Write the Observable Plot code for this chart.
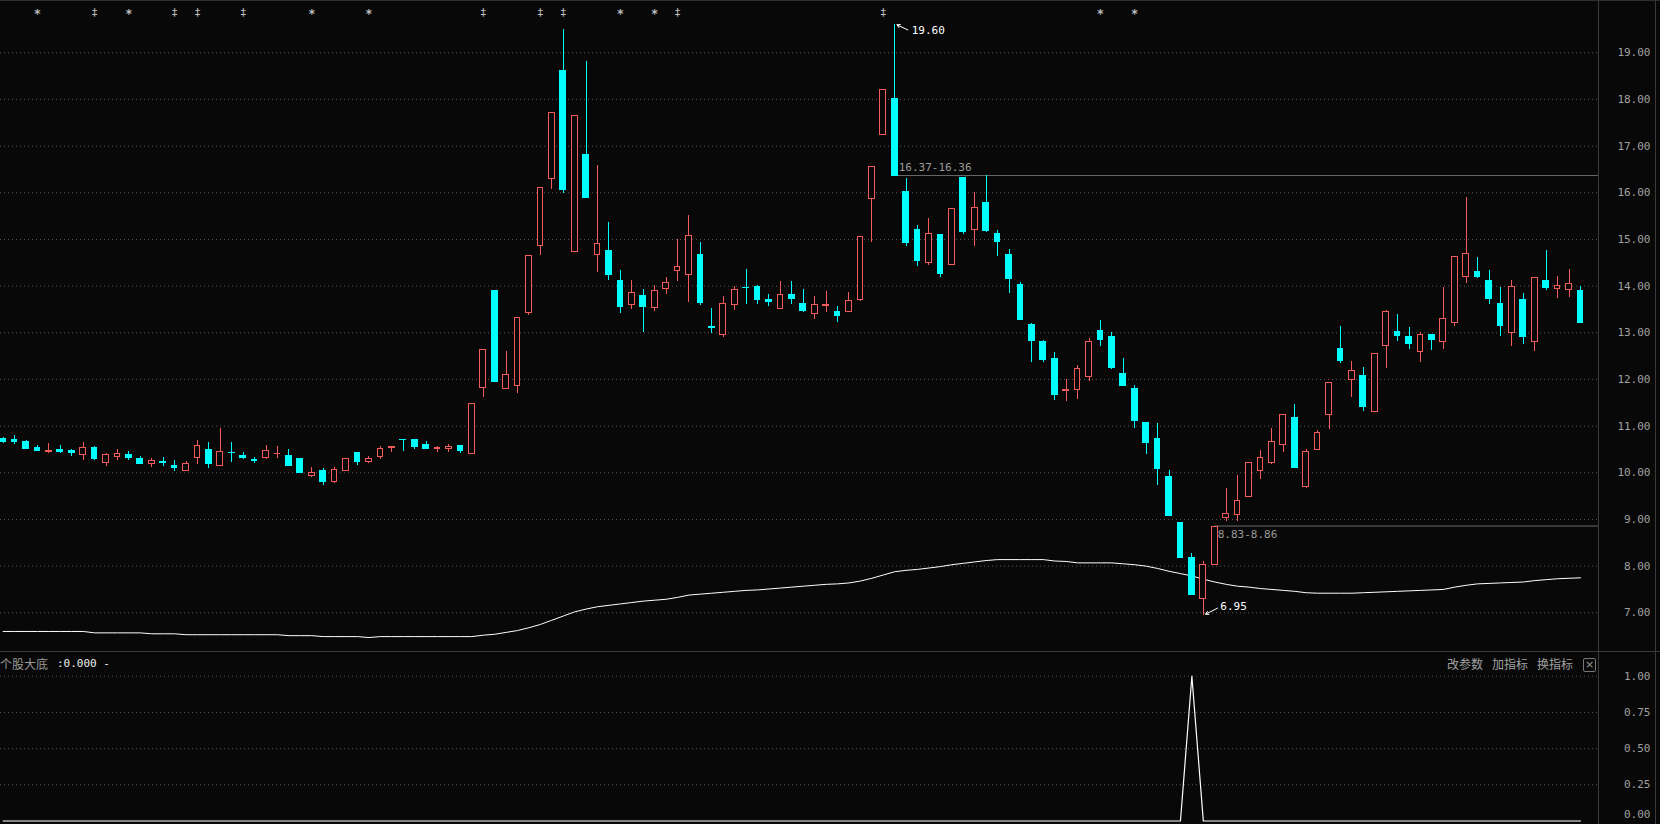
<!DOCTYPE html>
<html><head><meta charset="utf-8">
<script src="https://cdn.jsdelivr.net/npm/d3@7"></script>
<script src="https://cdn.jsdelivr.net/npm/@observablehq/plot@0.6"></script>
<style>
html,body{margin:0;padding:0;background:#080808;overflow:hidden;}
#wrap{position:relative;width:1660px;height:824px;overflow:hidden;background:#080808;}
#main{position:absolute;left:0;top:0;}
#ind{position:absolute;left:0;top:652px;}
.ln{position:absolute;background:#333;}
.t{position:absolute;font-family:"Noto Sans CJK SC";font-size:12px;line-height:14px;white-space:nowrap;}
svg{display:block;}
</style></head>
<body><div id="wrap"><div id="main"></div><div id="ind"></div></div>
<script>
// ---- data ----
const opens = [10.73,10.71,10.66,10.54,10.44,10.49,10.46,10.39,10.54,10.20,10.33,10.39,10.30,10.19,10.24,10.15,10.03,10.31,10.49,10.14,
10.43,10.36,10.27,10.31,10.40,10.36,10.30,9.94,10.04,9.81,10.03,10.43,10.24,10.33,10.54,10.71,10.71,10.60,10.50,10.52,
10.58,10.41,11.82,13.89,11.80,11.86,13.42,14.86,16.29,18.62,14.74,16.82,14.67,14.76,14.12,13.60,13.78,13.54,13.94,14.33,
14.24,14.67,13.13,12.95,13.60,13.96,13.99,13.71,13.50,13.82,13.62,13.40,13.57,13.45,13.45,13.70,15.87,17.24,18.00,16.01,
15.21,14.49,15.09,14.46,16.31,15.21,15.79,15.12,14.66,14.02,13.17,12.80,12.44,11.75,11.78,12.06,13.04,12.91,12.12,11.80,
11.07,10.73,9.92,8.93,8.18,7.29,8.02,9.04,9.09,9.49,10.03,10.20,10.59,11.18,9.69,10.48,11.24,12.66,11.99,12.08,
11.30,12.72,13.01,12.92,12.59,12.96,12.80,13.21,14.19,14.31,14.12,13.61,13.00,13.71,12.80,14.10,13.94,13.92,13.89];
const highs = [10.76,10.79,10.70,10.58,10.62,10.58,10.50,10.64,10.56,10.41,10.51,10.45,10.34,10.30,10.32,10.26,10.24,10.69,10.66,10.94,
10.64,10.44,10.33,10.58,10.56,10.49,10.30,10.11,10.09,10.11,10.29,10.43,10.36,10.56,10.55,10.72,10.71,10.68,10.56,10.61,
10.58,11.47,12.64,13.91,12.60,13.32,14.65,16.11,17.71,19.50,17.65,18.81,16.59,15.36,14.34,14.12,13.93,14.01,14.19,15.01,
15.51,14.94,13.52,13.77,14.00,14.36,14.02,13.83,14.09,14.10,13.92,13.77,13.88,13.56,13.86,15.05,16.56,18.21,19.60,16.31,
15.30,15.45,15.09,15.66,16.31,16.01,16.37,15.19,14.79,14.08,13.21,12.83,12.57,12.00,12.31,12.87,13.27,13.00,12.46,11.88,
11.07,11.05,10.04,8.93,8.27,8.10,8.86,9.67,9.95,10.21,10.47,10.96,11.24,11.46,10.49,10.91,11.92,13.14,12.38,12.25,
12.55,13.48,13.39,13.11,13.00,12.96,13.97,14.63,15.90,14.61,14.34,13.97,14.12,13.84,14.18,14.76,14.21,14.36,14.00];
const lows = [10.62,10.60,10.50,10.46,10.41,10.41,10.35,10.26,10.26,10.14,10.26,10.26,10.18,10.11,10.14,10.03,10.03,10.18,10.09,10.14,
10.22,10.28,10.19,10.28,10.31,10.15,9.99,9.90,9.73,9.77,10.03,10.16,10.21,10.28,10.44,10.45,10.49,10.52,10.44,10.44,
10.41,10.39,11.62,11.94,11.80,11.71,13.38,14.66,16.08,15.98,14.74,15.89,14.30,14.13,13.42,13.51,13.01,13.46,13.83,14.09,
13.64,13.59,12.99,12.91,13.48,13.61,13.61,13.56,13.50,13.61,13.43,13.29,13.43,13.23,13.45,13.67,14.94,17.24,16.37,14.84,
14.43,14.45,14.19,14.46,15.11,14.84,15.16,14.64,13.84,13.27,12.37,12.37,11.56,11.52,11.58,11.95,12.70,12.21,11.86,10.96,
10.39,9.72,9.08,8.16,7.39,6.95,8.02,8.96,8.96,9.49,9.85,10.18,10.43,10.11,9.66,10.48,10.93,12.35,11.62,11.32,
11.30,12.24,12.82,12.65,12.37,12.63,12.65,13.14,14.06,14.17,13.61,12.93,12.71,12.74,12.61,13.91,13.74,13.76,13.20];
const closes = [10.67,10.67,10.50,10.46,10.47,10.45,10.42,10.53,10.29,10.38,10.40,10.31,10.18,10.25,10.20,10.11,10.19,10.57,10.18,10.44,
10.42,10.31,10.25,10.47,10.41,10.15,9.99,9.99,9.81,10.06,10.29,10.24,10.29,10.51,10.55,10.70,10.56,10.52,10.54,10.56,
10.46,11.47,12.64,11.94,12.10,13.32,14.65,16.11,17.71,16.05,17.65,15.89,14.91,14.24,13.55,13.86,13.55,13.90,14.07,14.41,
15.08,13.63,13.11,13.62,13.91,13.95,13.70,13.65,13.81,13.72,13.46,13.60,13.60,13.35,13.69,15.05,16.56,18.21,16.37,14.92,
14.54,15.12,14.26,15.66,15.15,15.68,15.19,14.94,14.15,13.27,12.82,12.42,11.67,11.78,12.22,12.80,12.85,12.25,11.86,11.11,
10.64,10.09,9.08,8.18,7.39,8.03,8.83,9.11,9.39,10.20,10.31,10.66,11.24,10.11,10.44,10.85,11.92,12.39,12.18,11.42,
12.55,13.45,12.93,12.76,12.96,12.84,13.30,14.63,14.69,14.19,13.72,13.14,13.99,12.91,14.18,13.96,14.01,14.05,13.22];
const maLine = [6.60,6.60,6.60,6.60,6.60,6.60,6.60,6.60,6.57,6.57,6.57,6.57,6.57,6.55,6.55,6.55,6.53,6.53,6.53,6.53,
6.53,6.53,6.53,6.53,6.53,6.51,6.51,6.51,6.49,6.49,6.49,6.49,6.47,6.49,6.49,6.49,6.49,6.49,6.49,6.49,
6.49,6.49,6.52,6.54,6.58,6.62,6.68,6.75,6.84,6.93,7.02,7.08,7.13,7.16,7.19,7.22,7.25,7.27,7.29,7.33,
7.38,7.40,7.42,7.44,7.46,7.48,7.49,7.51,7.53,7.55,7.57,7.59,7.61,7.62,7.64,7.68,7.74,7.81,7.88,7.91,
7.93,7.96,7.99,8.03,8.06,8.09,8.12,8.14,8.14,8.14,8.14,8.14,8.11,8.10,8.07,8.07,8.07,8.07,8.05,8.03,
8.00,7.95,7.89,7.84,7.79,7.72,7.66,7.61,7.57,7.55,7.52,7.50,7.48,7.46,7.43,7.42,7.42,7.42,7.42,7.43,
7.44,7.45,7.46,7.47,7.48,7.49,7.50,7.55,7.59,7.62,7.63,7.64,7.65,7.66,7.69,7.71,7.73,7.74,7.75];
const priceTicks = [7,8,9,10,11,12,13,14,15,16,17,18,19];
const indTicks = [0,0.25,0.5,0.75,1];
const starDays = [3,11,27,32,54,57,96,99];
const daggerDays = [8,15,17,21,42,47,49,59,77];
const signalDays = [104];           // 个股大底 signal = 1 on these days, 0 elsewhere
const peakMark = {i:78, v:19.60};
const troughMark = {i:105, v:6.95};
const gapMarks = [{i:78, a:16.37, b:16.36, y:16.37, pos:"above"}, {i:106, a:8.83, b:8.86, y:8.86, pos:"below"}];

// ---- build ----
const RED = "#f55a5a", CYAN = "#00ffff", BG = "#080808";
const candles = opens.map((o, i) => ({i, o, h: highs[i], l: lows[i], c: closes[i], up: closes[i] >= o}));
const indicator = closes.map((_, i) => signalDays.includes(i) ? 1 : 0);
const xMax = 139.57;
const xOpt = {type: "linear", domain: [0, 138], range: [2.67, 1580.0], axis: null};
const font = {background: BG, fontFamily: "DejaVu Sans Mono", fontSize: "11px", color: "#a0a0a0"};

const main = Plot.plot({
  width: 1660, height: 652, marginLeft: 0, marginRight: 62, marginTop: 0, marginBottom: 0,
  style: font,
  x: xOpt,
  y: {domain: [7, 19], range: [612.3, 52.3], axis: null},
  marks: [
    Plot.ruleY(priceTicks, {stroke: "#5c5c5c", strokeDasharray: "1,3"}),
    Plot.axisY(priceTicks, {anchor: "right", tickSize: 0, tickPadding: 52, textAnchor: "end", tickFormat: d => d.toFixed(2), fill: "#a0a0a0", label: null}),
    Plot.ruleY(gapMarks, {y: "y", x1: "i", x2: () => xMax, stroke: "#6a6a6a"}),
    Plot.text(gapMarks.filter(g => g.pos === "above"), {x: "i", y: "y", text: g => `${g.a.toFixed(2)}-${g.b.toFixed(2)}`, dx: 4, dy: -8, textAnchor: "start", fill: "#9a9a9a", fontSize: 11}),
    Plot.text(gapMarks.filter(g => g.pos === "below"), {x: "i", y: "y", text: g => `${g.a.toFixed(2)}-${g.b.toFixed(2)}`, dx: 3, dy: 8, textAnchor: "start", fill: "#9a9a9a", fontSize: 11}),
    Plot.line(maLine, {x: (d, i) => i, y: d => d, stroke: "#ffffff", strokeWidth: 1}),
    Plot.ruleX(candles, {x: "i", y1: "l", y2: "h", stroke: d => d.up ? RED : CYAN, strokeWidth: 1, shapeRendering: "crispEdges"}),
    Plot.rect(candles, {x1: d => d.i - 0.25, x2: d => d.i + 0.25, y1: "o", y2: "c", fill: d => d.up ? BG : CYAN, stroke: d => d.up ? RED : CYAN, strokeWidth: 1, shapeRendering: "crispEdges"}),
    Plot.text(starDays, {x: d => d, text: () => "*", frameAnchor: "top", dy: 9, fill: "#bdbdbd", fontSize: 12, fontWeight: "bold"}),
    Plot.text(daggerDays, {x: d => d, text: () => "‡", frameAnchor: "top", dy: 8, fill: "#bdbdbd", fontSize: 11}),
    Plot.arrow([peakMark], {x1: d => d.i + 1.15, y1: d => d.v - 0.11, x2: d => d.i + 0.2, y2: d => d.v, stroke: "#ffffff", headLength: 5, strokeWidth: 1}),
    Plot.text([peakMark], {x: "i", y: "v", text: d => d.v.toFixed(2), dx: 17, dy: 6, textAnchor: "start", fill: "#ffffff", fontSize: 11}),
    Plot.arrow([troughMark], {x1: d => d.i + 1.25, y1: d => d.v + 0.15, x2: d => d.i + 0.2, y2: d => d.v + 0.02, stroke: "#ffffff", headLength: 5, strokeWidth: 1}),
    Plot.text([troughMark], {x: "i", y: "v", text: d => d.v.toFixed(2), dx: 17, dy: -9, textAnchor: "start", fill: "#ffffff", fontSize: 11})
  ]
});
document.getElementById("main").appendChild(main);

const ind = Plot.plot({
  width: 1660, height: 172, marginLeft: 0, marginRight: 62, marginTop: 0, marginBottom: 0,
  style: font,
  x: xOpt,
  y: {domain: [0, 1], range: [168.5, 23.7], axis: null},
  marks: [
    Plot.ruleY(indTicks.filter(t => t > 0), {stroke: "#5c5c5c", strokeDasharray: "1,3"}),
    Plot.axisY(indTicks.filter(t => t > 0), {anchor: "right", tickSize: 0, tickPadding: 52, textAnchor: "end", tickFormat: d => d.toFixed(2), fill: "#a0a0a0", label: null}),
    Plot.axisY([0], {anchor: "right", tickSize: 0, tickPadding: 52, textAnchor: "end", tickFormat: d => d.toFixed(2), fill: "#a0a0a0", label: null, dy: -7}),
    Plot.line(indicator, {x: (d, i) => i, y: d => d, stroke: "#ffffff", strokeWidth: 1.2})
  ]
});
document.getElementById("ind").appendChild(ind);

// panel chrome and header texts
const wrap = document.getElementById("wrap");
function add(html) { wrap.insertAdjacentHTML("beforeend", html); }
add('<div class="ln" style="left:0;top:0;width:1660px;height:1px;background:#2e2e2e"></div>');
add('<div class="ln" style="left:0;top:651px;width:1660px;height:1px;background:#3a3a3a"></div>');
add('<div class="ln" style="left:1598px;top:0;width:1px;height:824px;background:#3a3a3a"></div>');
add('<div class="ln" style="left:1655px;top:0;width:1px;height:824px;background:#3a3a3a"></div>');
add('<div class="t" style="left:0px;top:657px;color:#9a9a9a">个股大底</div>');
add('<div class="t" style="left:57px;top:657px;color:#eeeeee;font-family:\'DejaVu Sans Mono\';font-size:11px">:0.000 -</div>');
add('<div class="t" style="left:1447px;top:657px;color:#a0a0a0">改参数</div>');
add('<div class="t" style="left:1492px;top:657px;color:#a0a0a0">加指标</div>');
add('<div class="t" style="left:1537px;top:657px;color:#a0a0a0">换指标</div>');
add('<div class="t" style="left:1583px;top:658px;width:11px;height:12px;border:1px solid #777;border-radius:2px;color:#999;font-family:\'DejaVu Sans\';font-size:11px;line-height:12px;text-align:center">×</div>');
</script>
</body></html>
